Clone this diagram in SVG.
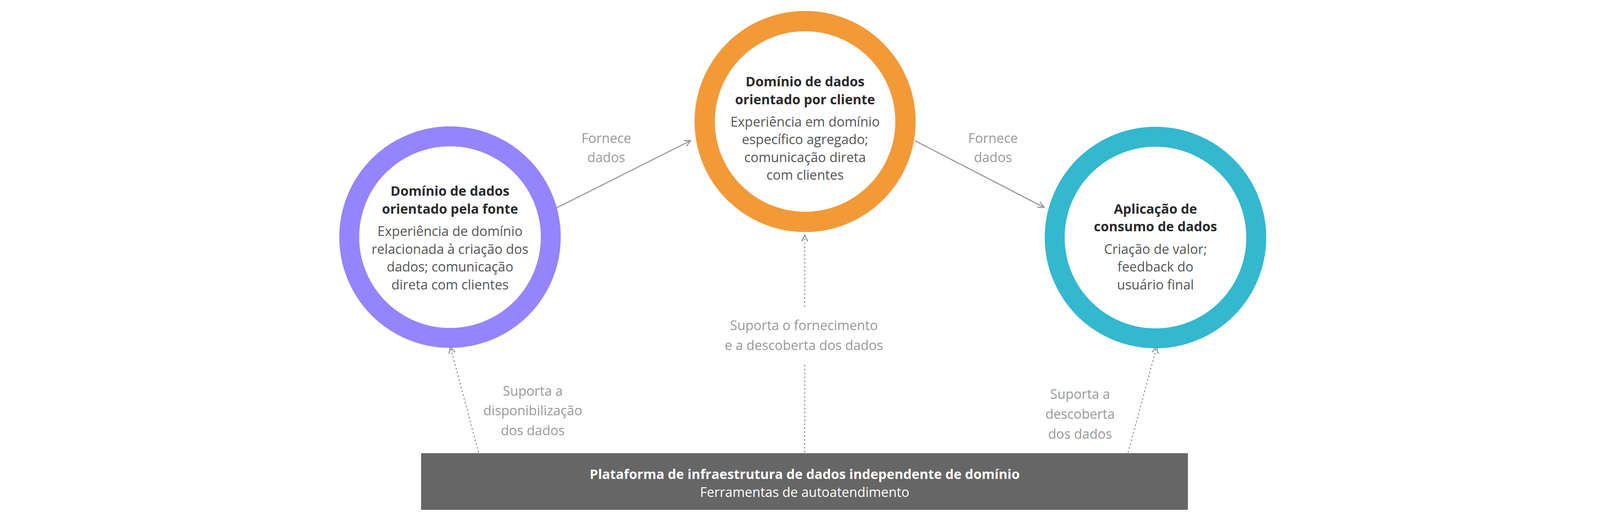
<svg xmlns="http://www.w3.org/2000/svg" width="4114" height="1331" viewBox="0 0 4114 1331">
<style>
text{font-family:"Open Sans","Noto Sans",sans-serif;text-anchor:middle}
.t{font-size:34px;font-weight:bold;fill:#2b2b2b}
.b{font-size:34px;fill:#555}
.l{font-size:34px;fill:#999}
.w{fill:#fff;font-size:34px}
.c{stroke:#999;stroke-width:3;fill:none}
.d{stroke-dasharray:4 6}
</style>
<defs><marker id="a" viewBox="0 0 20 20" refX="18" refY="10" markerWidth="20" markerHeight="20" markerUnits="userSpaceOnUse" orient="auto"><path d="M2,2 L18,10 L2,18" fill="none" stroke="#999" stroke-width="3"/></marker></defs>
<rect width="4114" height="1331" fill="#fff"/>
<g id="connectors">
<line class="c" x1="1425" y1="532" x2="1768" y2="360" marker-end="url(#a)"/>
<line class="c" x1="2342" y1="360" x2="2673" y2="531" marker-end="url(#a)"/>
<line class="c d" x1="2060" y1="1158" x2="2060" y2="932"/>
<line class="c d" x1="2060" y1="785" x2="2060" y2="602" marker-end="url(#a)"/>
<line class="c d" x1="1225" y1="1158" x2="1153" y2="888" marker-end="url(#a)"/>
<line class="c d" x1="2888" y1="1158" x2="2961" y2="888" marker-end="url(#a)"/>
<text class="l" x="1552" y="366">Fornece</text><text class="l" x="1552" y="415">dados</text>
<text class="l" x="2542" y="366">Fornece</text><text class="l" x="2542" y="415">dados</text>
<text class="l" x="2058" y="845">Suporta o fornecimento</text><text class="l" x="2058" y="896">e a descoberta dos dados</text>
<text class="l" x="1364" y="1013">Suporta a</text><text class="l" x="1364" y="1063">disponibilização</text><text class="l" x="1364" y="1114">dos dados</text>
<text class="l" x="2765" y="1021">Suporta a</text><text class="l" x="2765" y="1072">descoberta</text><text class="l" x="2765" y="1123">dos dados</text>
</g>
<g id="fonte">
<circle cx="1152" cy="607" r="258" fill="#fff" stroke="#9584fc" stroke-width="51"/>
<text class="t" x="1152" y="501">Domínio de dados</text><text class="t" x="1152" y="547">orientado pela fonte</text>
<text class="b" x="1152" y="604">Experiência de domínio</text><text class="b" x="1152" y="650">relacionada à criação dos</text><text class="b" x="1152" y="695">dados; comunicação</text><text class="b" x="1152" y="741">direta com clientes</text>
</g>
<g id="cliente">
<circle cx="2061" cy="311" r="257" fill="#fff" stroke="#f29a38" stroke-width="52"/>
<text class="t" x="2061" y="221">Domínio de dados</text><text class="t" x="2061" y="267">orientado por cliente</text>
<text class="b" x="2061" y="324">Experiência em domínio</text><text class="b" x="2061" y="369">específico agregado;</text><text class="b" x="2061" y="415">comunicação direta</text><text class="b" x="2061" y="460">com clientes</text>
</g>
<g id="consumo">
<circle cx="2958" cy="608" r="258" fill="#fff" stroke="#33b8cf" stroke-width="51"/>
<text class="t" x="2958" y="547">Aplicação de</text><text class="t" x="2958" y="592">consumo de dados</text>
<text class="b" x="2958" y="650">Criação de valor;</text><text class="b" x="2958" y="695">feedback do</text><text class="b" x="2958" y="741">usuário final</text>
</g>
<g id="plataforma">
<rect x="1078" y="1160" width="1963" height="145" fill="#666"/>
<text class="w" x="2060" y="1226" font-weight="bold">Plataforma de infraestrutura de dados independente de domínio</text>
<text class="w" x="2060" y="1272">Ferramentas de autoatendimento</text>
</g>
</svg>
